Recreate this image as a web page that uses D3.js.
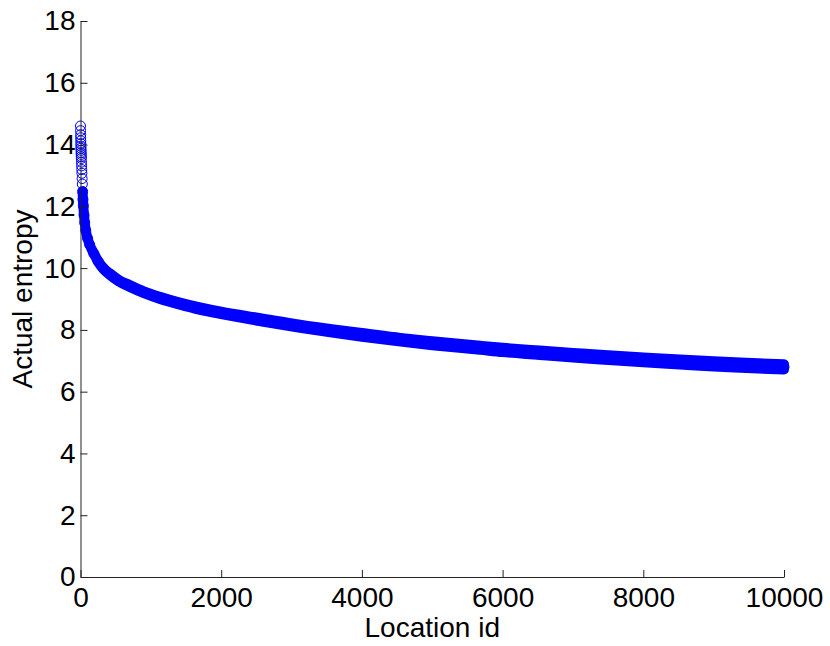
<!DOCTYPE html>
<html>
<head>
<meta charset="utf-8">
<script src="https://cdn.jsdelivr.net/npm/d3@7"></script>
<style>
  html, body { margin: 0; padding: 0; background: #fff; }
  svg { display: block; }
  text { font-family: "Liberation Sans", Arial, Helvetica, sans-serif; }
</style>
</head>
<body>
<svg id="chart" width="830" height="646"></svg>
<script>
// ---- data ----
const locationIds = [0, 1, 2, 3, 4, 5, 6, 7, 8, 9, 10, 11, 12, 14, 16, 18, 20, 23, 26, 30, 35, 40, 50, 60, 75, 100, 130, 190, 250, 330, 420, 540, 700, 900, 1140, 1400, 1700, 2000, 2560, 3120, 3600, 4000, 4550, 5000, 5680, 6000, 6530, 7000, 7390, 8000, 8520, 9000, 9380, 10000];
const entropy = [14.6, 14.45, 14.32, 14.22, 14.12, 14.03, 13.95, 13.88, 13.81, 13.74, 13.68, 13.61, 13.55, 13.43, 13.31, 13.19, 13.07, 12.9, 12.72, 12.48, 12.22, 12.02, 11.72, 11.47, 11.22, 10.97, 10.76, 10.47, 10.22, 9.98, 9.8, 9.6, 9.42, 9.22, 9.03, 8.86, 8.69, 8.55, 8.33, 8.12, 7.96, 7.84, 7.68, 7.57, 7.42, 7.35, 7.26, 7.18, 7.12, 7.03, 6.96, 6.9, 6.86, 6.8];
// vertical scatter (range of entropy values) around each reading
const spread = [0, 0, 0, 0, 0, 0, 0, 0, 0, 0, 0, 0, 0, 0, 0, 0, 0, 0, 0, 0, 0, 0, 0, 0, 0, 0, 0, 0.02, 0.03, 0.04, 0.05, 0.05, 0.06, 0.06, 0.07, 0.07, 0.08, 0.08, 0.1, 0.1, 0.11, 0.12, 0.12, 0.13, 0.13, 0.14, 0.14, 0.15, 0.15, 0.16, 0.16, 0.17, 0.17, 0.17];
const xTicks = [0, 2000, 4000, 6000, 8000, 10000];
const yTicks = [0, 2, 4, 6, 8, 10, 12, 14, 16, 18];
const xLabel = "Location id";
const yLabel = "Actual entropy";

// ---- drawing ----
const svg = d3.select("#chart");
const color = "#0000ff";
const mLeft = 80.5, mRight = 784, mTop = 21, mBottom = 577;

const x = d3.scaleLinear().domain([0, 10000]).range([mLeft, mRight]);
const y = d3.scaleLinear().domain([0, 18]).range([mBottom, mTop]);

const pts = locationIds.map((id, i) => ({ id, v: entropy[i], s: spread[i] }));
const bandStart = locationIds.indexOf(30);
const bandPts = pts.slice(bandStart);

const plot = svg.append("g");

// dense band of overlapping markers
const area = d3.area()
  .x(d => x(d.id))
  .y0(d => y(d.v - d.s / 2))
  .y1(d => y(d.v + d.s / 2))
  .curve(d3.curveMonotoneX);
plot.append("path")
  .datum(bandPts)
  .attr("d", area)
  .attr("fill", color)
  .attr("stroke", color)
  .attr("stroke-width", 10)
  .attr("stroke-linejoin", "round");

// individual circle markers
plot.selectAll("circle")
  .data(pts)
  .join("circle")
  .attr("cx", d => x(d.id))
  .attr("cy", d => y(d.v))
  .attr("r", 5)
  .attr("fill", "none")
  .attr("stroke", color)
  .attr("stroke-width", 1);

// axes
const fontSize = 28;
const xAxis = svg.append("g")
  .attr("transform", `translate(0,${mBottom})`)
  .call(d3.axisBottom(x).tickValues(xTicks).tickFormat(d3.format("d"))
    .tickSizeInner(-7).tickSizeOuter(0).tickPadding(10));
const yAxis = svg.append("g")
  .attr("transform", `translate(${mLeft},0)`)
  .call(d3.axisLeft(y).tickValues(yTicks).tickFormat(d3.format("d"))
    .tickSizeInner(-7).tickSizeOuter(0).tickPadding(5));
[xAxis, yAxis].forEach(g => {
  g.selectAll("path, line").attr("stroke", "#222").attr("stroke-width", 1);
  g.selectAll("text").attr("fill", "#000")
    .style("font-size", fontSize + "px")
    .style("font-family", "'Liberation Sans', Arial, sans-serif");
});

svg.append("text")
  .attr("x", (mLeft + mRight) / 2)
  .attr("y", 637)
  .attr("text-anchor", "middle")
  .style("font-size", fontSize + "px")
  .text(xLabel);

svg.append("text")
  .attr("transform", `translate(32,${(mTop + mBottom) / 2}) rotate(-90)`)
  .attr("text-anchor", "middle")
  .style("font-size", fontSize + "px")
  .text(yLabel);
</script>
</body>
</html>
